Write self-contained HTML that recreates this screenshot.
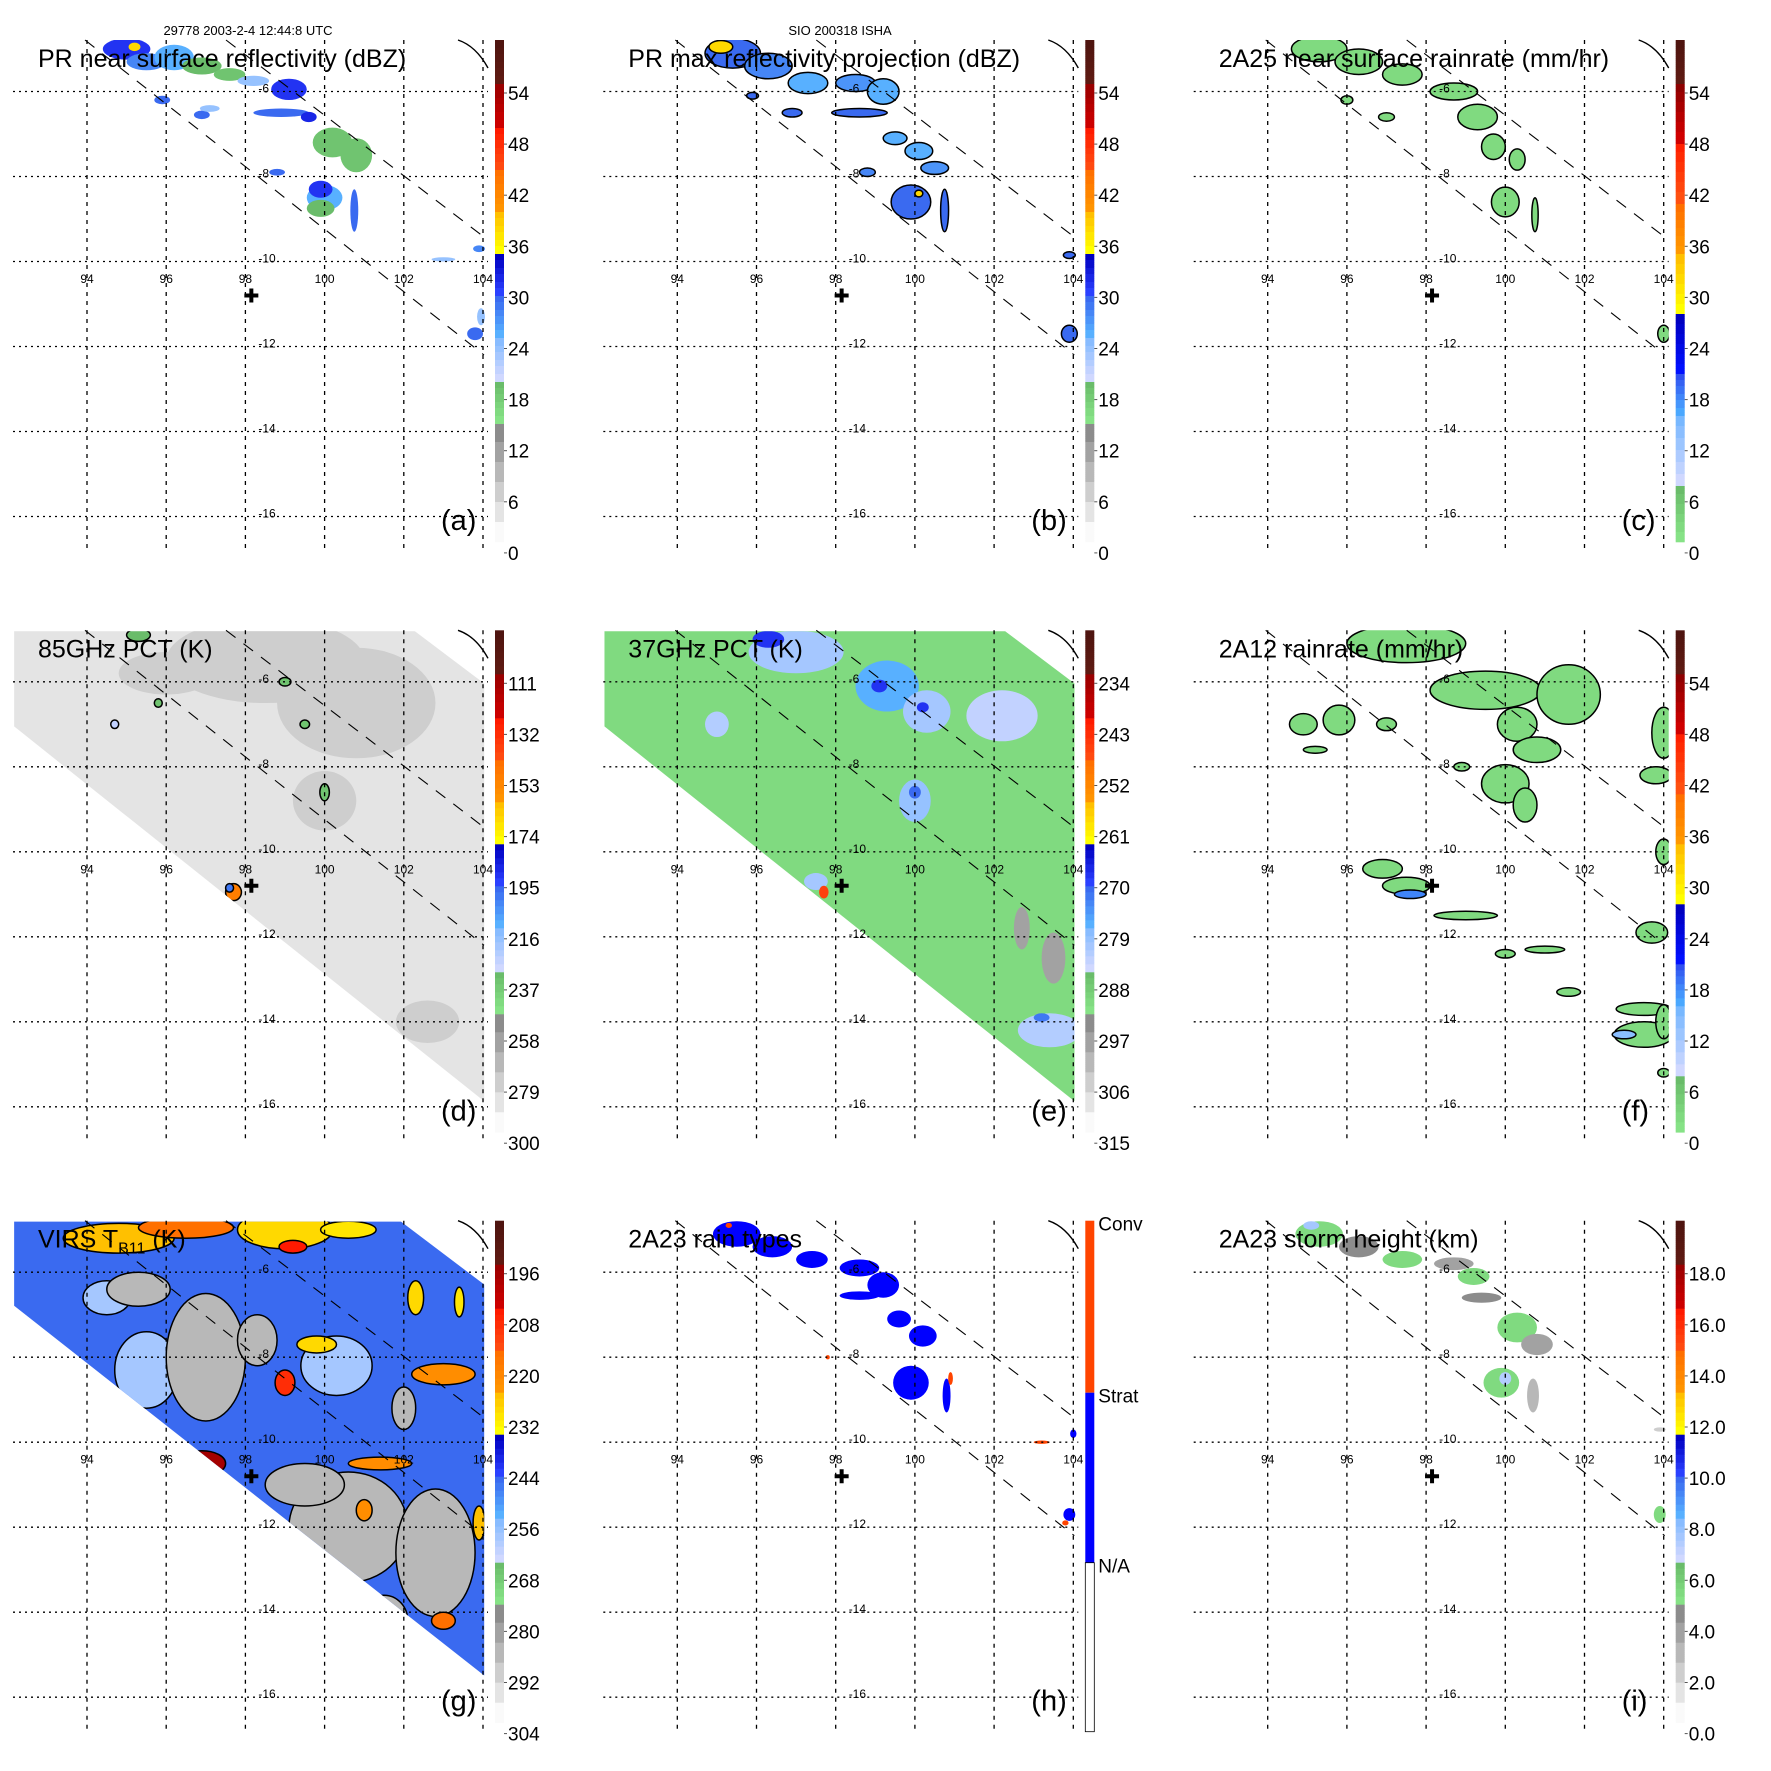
<!DOCTYPE html>
<html><head><meta charset="utf-8">
<style>
html,body{margin:0;padding:0;background:#fff;}
svg{display:block;font-family:"Liberation Sans",sans-serif;}
</style></head>
<body>
<svg id="fig" width="1771" height="1771" viewBox="0 0 1771 1771" xmlns="http://www.w3.org/2000/svg"></svg>
<script>
// ---------- data (lon, lat, radius-lon deg, radius-lat deg, value) ----------
const lonTicks = [94, 96, 98, 100, 102, 104];
const latTicks = [-6, -8, -10, -12, -14, -16];
const ticksDBZ = ["54","48","42","36","30","24","18","12","6","0"];
const ticks85 = ["111","132","153","174","195","216","237","258","279","300"];
const ticks37 = ["234","243","252","261","270","279","288","297","306","315"];
const ticksVIRS = ["196","208","220","232","244","256","268","280","292","304"];
const ticksHt = ["18.0","16.0","14.0","12.0","10.0","8.0","6.0","4.0","2.0","0.0"];
const rainTypeLabels = ["Conv","Strat","N/A"];
const stormCenter = [98.15, -10.8];

const blobsA = [
 [95.0,-5.0,0.6,0.25,31],[95.5,-5.3,0.5,0.2,28],[96.2,-5.2,0.5,0.3,26],[96.9,-5.4,0.5,0.2,20],
 [95.2,-4.95,0.15,0.1,38],[97.6,-5.6,0.4,0.15,19],[98.2,-5.75,0.4,0.12,24],[99.1,-5.95,0.45,0.25,31],
 [98.9,-6.5,0.7,0.1,30],[99.6,-6.6,0.2,0.12,32],[95.9,-6.2,0.2,0.1,30],[96.9,-6.55,0.2,0.1,30],
 [97.1,-6.4,0.25,0.08,24],[100.2,-7.2,0.5,0.35,19],[100.8,-7.5,0.4,0.4,19],[100.0,-8.5,0.45,0.3,26],
 [99.9,-8.3,0.3,0.2,31],[99.9,-8.75,0.35,0.2,20],[100.75,-8.8,0.1,0.5,30],[98.8,-7.9,0.2,0.08,30],
 [103.9,-9.7,0.15,0.08,28],[103.8,-11.7,0.2,0.15,30],[103.95,-11.3,0.1,0.2,24],[103.0,-9.95,0.3,0.05,24]
];
const blobsB = [
 [95.4,-5.1,0.7,0.35,30],[95.1,-4.95,0.3,0.15,38],[96.3,-5.4,0.6,0.3,28],[97.3,-5.8,0.5,0.25,26],
 [98.5,-5.8,0.5,0.2,27],[99.2,-6.0,0.4,0.3,26],[95.9,-6.1,0.15,0.08,30],[96.9,-6.5,0.25,0.1,30],
 [98.6,-6.5,0.7,0.1,30],[99.5,-7.1,0.3,0.15,26],[100.1,-7.4,0.35,0.2,26],[100.5,-7.8,0.35,0.15,27],
 [98.8,-7.9,0.2,0.1,28],[99.9,-8.6,0.5,0.4,30],[100.1,-8.4,0.1,0.08,38],[100.75,-8.8,0.1,0.5,30],
 [103.9,-9.85,0.15,0.08,30],[103.9,-11.7,0.2,0.2,30]
];
const blobsC = [
 [95.3,-5.0,0.7,0.3,3],[96.3,-5.3,0.6,0.3,3],[97.4,-5.6,0.5,0.25,3],[98.7,-6.0,0.6,0.2,3],
 [99.3,-6.6,0.5,0.3,3],[99.7,-7.3,0.3,0.3,3],[100.3,-7.6,0.2,0.25,3],[100.0,-8.6,0.35,0.35,3],
 [100.75,-8.9,0.08,0.4,3],[104.0,-11.7,0.15,0.2,3],[96.0,-6.2,0.15,0.1,3],[97.0,-6.6,0.2,0.1,3]
];
const bgD = 283;
const blobsD = [
 [98.5,-5.5,2.5,1.0,277],[100.8,-6.5,2.0,1.3,277],[100.0,-8.8,0.8,0.7,279],[96.0,-5.8,1.2,0.5,279],
 [99.0,-6.0,0.15,0.1,235],[95.8,-6.5,0.1,0.1,235],[94.7,-7.0,0.1,0.1,225],[99.5,-7.0,0.12,0.1,235],
 [100.0,-8.6,0.12,0.2,235],[97.7,-10.95,0.2,0.2,150],[97.6,-10.85,0.1,0.1,200],[102.6,-13.8,0.12,0.1,235],
 [103.0,-13.7,0.1,0.08,215],[95.3,-4.9,0.3,0.15,230],[102.6,-14.0,0.8,0.5,278]
];
const bgE = 290;
const blobsE = [
 [97.0,-5.3,1.2,0.5,280],[96.3,-5.0,0.4,0.2,268],[99.3,-6.1,0.8,0.6,277],[99.1,-6.1,0.2,0.15,268],
 [100.3,-6.7,0.6,0.5,280],[100.2,-6.6,0.15,0.12,268],[102.2,-6.8,0.9,0.6,283],[100.0,-8.8,0.4,0.5,279],
 [100.0,-8.6,0.15,0.15,270],[95.0,-7.0,0.3,0.3,282],[97.5,-10.7,0.3,0.2,280],[97.7,-10.95,0.12,0.15,245],
 [103.4,-14.2,0.8,0.4,282],[103.2,-13.9,0.2,0.1,272],[103.5,-12.5,0.3,0.6,297],[102.7,-11.8,0.2,0.5,297]
];
const blobsF = [
 [97.5,-5.1,1.5,0.45,3],[99.5,-6.2,1.4,0.45,3],[101.6,-6.3,0.8,0.7,3],[100.3,-7.0,0.5,0.4,3],
 [100.8,-7.6,0.6,0.3,3],[94.9,-7.0,0.35,0.25,3],[95.8,-6.9,0.4,0.35,3],[97.0,-7.0,0.25,0.15,3],
 [95.2,-7.6,0.3,0.08,3],[100.0,-8.4,0.6,0.45,3],[100.5,-8.9,0.3,0.4,3],[104.0,-7.2,0.3,0.6,3],
 [103.8,-8.2,0.4,0.2,3],[96.9,-10.4,0.5,0.22,3],[97.5,-10.8,0.6,0.2,3],[99.0,-11.5,0.8,0.1,3],
 [100.0,-12.4,0.25,0.1,3],[101.0,-12.3,0.5,0.08,3],[103.7,-11.9,0.4,0.25,3],[103.5,-13.7,0.7,0.15,3],
 [103.5,-14.3,0.75,0.3,3],[104.0,-14.0,0.2,0.4,3],[101.6,-13.3,0.3,0.1,3],[98.9,-8.0,0.2,0.1,3],
 [104.0,-10.0,0.2,0.3,3],[104.0,-15.2,0.15,0.1,3],[97.6,-11.0,0.4,0.1,18],[103.0,-14.3,0.3,0.1,14]
];
const bgG = 245;
const blobsG = [
 [95.5,-8.3,0.8,0.9,258],[100.3,-8.2,0.9,0.7,258],[102.8,-12.8,0.8,1.0,258],[94.5,-6.6,0.6,0.4,258],
 [97.0,-8.0,1.0,1.5,283],[95.3,-6.4,0.8,0.4,283],[98.3,-7.6,0.5,0.6,283],[100.6,-12.0,1.5,1.3,283],
 [102.8,-12.6,1.0,1.5,283],[99.5,-11.0,1.0,0.5,283],[101.5,-14.2,0.6,0.6,283],[102.0,-9.2,0.3,0.5,283],
 [94.8,-5.2,1.4,0.35,225],[96.5,-4.95,1.2,0.25,215],[99.0,-5.0,1.2,0.45,228],[99.2,-5.4,0.35,0.15,205],
 [100.6,-5.0,0.7,0.2,230],[103.0,-8.4,0.8,0.25,222],[99.8,-7.7,0.5,0.2,228],[99.0,-8.6,0.25,0.3,208],
 [101.4,-10.5,0.8,0.15,222],[96.9,-10.5,0.6,0.3,196],[101.0,-11.6,0.2,0.25,222],[103.9,-11.9,0.15,0.4,225],
 [103.0,-14.2,0.3,0.2,215],[102.3,-6.6,0.2,0.4,228],[103.4,-6.7,0.12,0.35,230],[99.6,-14.6,0.2,0.2,225]
];
const blobsH = [
 [95.5,-5.1,0.6,0.3,1],[96.4,-5.4,0.5,0.25,1],[97.4,-5.7,0.4,0.2,1],[98.6,-5.9,0.5,0.2,1],
 [99.2,-6.3,0.4,0.3,1],[98.6,-6.55,0.5,0.1,1],[99.6,-7.1,0.3,0.2,1],[100.2,-7.5,0.35,0.25,1],
 [99.9,-8.6,0.45,0.4,1],[100.8,-8.9,0.1,0.4,1],[103.9,-11.7,0.15,0.15,1],[104.0,-9.8,0.08,0.1,1],
 [95.3,-4.9,0.08,0.06,2],[100.9,-8.5,0.06,0.15,2],[97.8,-8.0,0.05,0.05,2],[103.2,-10.0,0.2,0.04,2],[103.8,-11.9,0.08,0.06,2]
];
const blobsI = [
 [95.3,-5.1,0.6,0.3,5.5],[96.3,-5.4,0.5,0.25,4.5],[97.4,-5.7,0.5,0.2,5.5],[98.7,-5.8,0.5,0.15,4.2],
 [99.2,-6.1,0.4,0.2,5.5],[99.4,-6.6,0.5,0.12,4.5],[100.3,-7.3,0.5,0.35,5.5],[100.8,-7.7,0.4,0.25,4.2],
 [99.9,-8.6,0.45,0.35,5.5],[100.0,-8.5,0.15,0.15,7.5],[100.7,-8.9,0.15,0.4,3.0],[103.9,-11.7,0.15,0.2,5.5],
 [95.1,-4.9,0.2,0.1,7.8],[103.9,-9.7,0.15,0.05,2.5]
];

// ---------- axes ----------
const X0 = 87, PXLON = 39.6, Y0 = 91.5, PXLAT = 42.5;
function lonX(l){ return X0 + (l - 94) * PXLON; }
function latY(l){ return Y0 + (-6 - l) * PXLAT; }
const MAPL = 13, MAPR = 488, MAPT = 40, MAPB = 552;
const CBX = 495, CBW = 9, CBT = 40, CBB = 542;

const bandsA = [[40,83,'#4f1510','#5e1a12'],[83,127,'#9a0000','#cc0000'],[127,169,'#ff1a00','#ff4a10'],
 [169,212,'#ff7000','#ff9400'],[212,254,'#ffc000','#ffff00'],[254,296,'#0000c0','#2a40ff'],
 [296,338,'#3a6af0','#58b0ff'],[338,381,'#88bcff','#d0d8ff'],[381,423,'#6abc6a','#86e286'],[423,542,'#8c8c8c','#fafafa']];
const bandsC = [[40,83,'#4f1510','#5e1a12'],[83,143,'#8e0000','#d00000'],[143,203,'#ff2000','#ff5010'],
 [203,254,'#ff7000','#ff9800'],[254,314,'#ffc000','#ffff00'],[314,373,'#0000c0','#0010ff'],
 [373,415,'#3050f0','#4aa8ff'],[415,485,'#78b8ff','#d0d8ff'],[485,542,'#6abc6a','#86e286']];

function hex(c){return [parseInt(c.substr(1,2),16),parseInt(c.substr(3,2),16),parseInt(c.substr(5,2),16)];}
function mix(a,b,t){const A=hex(a),B=hex(b);return 'rgb('+A.map((v,i)=>Math.round(v+(B[i]-v)*t)).join(',')+')';}
function colorAtY(bands,y){
  y=Math.max(CBT+0.5,Math.min(CBB-0.5,y));
  for(const b of bands){ if(y>=b[0]&&y<=b[1]){ const t=Math.floor((y-b[0])/(b[1]-b[0])*6)/5; return mix(b[2],b[3],Math.min(1,t)); } }
  return '#fff';
}
function valY(scale,v){ return 553 + (v - scale.bottom)/(scale.top - scale.bottom)*(93-553); }

const NS='http://www.w3.org/2000/svg';
const fig=document.getElementById('fig');
function el(tag,attrs,parent){const e=document.createElementNS(NS,tag);for(const k in attrs)e.setAttribute(k,attrs[k]);parent.appendChild(e);return e;}

const swathTMI = [[92.16,-4.81],[102.28,-4.81],[104.03,-6.04],[104.03,-15.87],[92.16,-7.05]];
const swathVIRS = [[92.16,-4.81],[101.93,-4.81],[104.03,-6.29],[104.03,-15.49],[92.16,-6.79]];

const panels = [
 {id:'a',col:0,row:0,title:'PR near surface reflectivity (dBZ)',blobs:blobsA,bands:bandsA,scale:{top:54,bottom:0},ticks:ticksDBZ,outline:false},
 {id:'b',col:1,row:0,title:'PR max reflectivity projection (dBZ)',blobs:blobsB,bands:bandsA,scale:{top:54,bottom:0},ticks:ticksDBZ,outline:true},
 {id:'c',col:2,row:0,title:'2A25 near surface rainrate (mm/hr)',blobs:blobsC,bands:bandsC,scale:{top:54,bottom:0},ticks:ticksDBZ,outline:true},
 {id:'d',col:0,row:1,title:'85GHz PCT (K)',blobs:blobsD,bands:bandsA,scale:{top:111,bottom:300},ticks:ticks85,outline:true,bg:bgD,swath:swathTMI,noGrayOutline:true},
 {id:'e',col:1,row:1,title:'37GHz PCT (K)',blobs:blobsE,bands:bandsA,scale:{top:234,bottom:315},ticks:ticks37,outline:false,bg:bgE,swath:swathTMI},
 {id:'f',col:2,row:1,title:'2A12 rainrate (mm/hr)',blobs:blobsF,bands:bandsC,scale:{top:54,bottom:0},ticks:ticksDBZ,outline:true},
 {id:'g',col:0,row:2,title:'VIRS',blobs:blobsG,bands:bandsA,scale:{top:196,bottom:304},ticks:ticksVIRS,outline:true,bg:bgG,swath:swathVIRS},
 {id:'h',col:1,row:2,title:'2A23 rain types',blobs:blobsH,rain:true,outline:false},
 {id:'i',col:2,row:2,title:'2A23 storm height (km)',blobs:blobsI,bands:bandsA,scale:{top:18,bottom:0},ticks:ticksHt,outline:false}
];

panels.forEach(p=>{
  const g=el('g',{transform:`translate(${(p.col*590.33).toFixed(1)},${(p.row*590.33).toFixed(1)})`},fig);
  
  
  const cid='clip-'+p.id;
  const defs=el('defs',{},g);
  const cp=el('clipPath',{id:cid},defs);
  if(p.swath){ el('polygon',{points:p.swath.map(q=>lonX(q[0])+','+latY(q[1])).join(' ')},cp); }
  else el('rect',{x:MAPL,y:MAPT,width:MAPR-MAPL,height:MAPB-MAPT},cp);
  const data=el('g',{'clip-path':`url(#${cid})`},g);
  
  
  if(p.bg!==undefined){
    const bgc=colorAtY(p.bands,valY(p.scale,p.bg));
    const bgr=el('rect',{x:0,y:0,width:590,height:590,fill:bgc},data);
    
    
  }
  p.blobs.forEach(b=>{
    let fill, yv=0;
    if(p.rain) fill = b[4]===2 ? '#ff4400' : '#0000ff';
    else { yv=valY(p.scale,b[4]); fill = colorAtY(p.bands,yv); }
    const e=el('ellipse',{cx:lonX(b[0]),cy:latY(b[1]),rx:b[2]*PXLON,ry:b[3]*PXLAT,fill:fill},data);
    if(p.outline && !(p.noGrayOutline && yv>=423)){e.setAttribute('stroke','#000');e.setAttribute('stroke-width','1.5');}
    
    
  });
  // grid
  const grid=el('g',{stroke:'#000','stroke-width':'1.3',fill:'none'},g);
  
  
  lonTicks.forEach(l=>{ el('line',{x1:lonX(l),x2:lonX(l),y1:MAPT,y2:MAPB,'stroke-dasharray':'4,5'},grid); });
  latTicks.forEach(l=>{ el('line',{x1:MAPL,x2:MAPR,y1:latY(l),y2:latY(l),'stroke-dasharray':'2,4'},grid); });
  // swath edges
  const sw=el('g',{stroke:'#000','stroke-width':'1.1','stroke-dasharray':'12,10'},g);
  
  
  el('line',{x1:85,y1:40,x2:484,y2:355},sw);
  el('line',{x1:226,y1:40,x2:484,y2:237},sw);
  const coast=el('path',{d:'M458,40 Q476,46 488,68',stroke:'#000','stroke-width':'1.4',fill:'none'},g);
  
  
  // labels
  lonTicks.forEach(l=>{ const t=el('text',{x:lonX(l),y:283,'font-size':'12','text-anchor':'middle'},g); t.textContent=String(l);
      });
  latTicks.forEach(l=>{ const t=el('text',{x:lonX(98)+13,y:latY(l)+1,'font-size':'12'},g); t.textContent=String(l);
      });
  // storm center cross
  const cx=lonX(stormCenter[0]), cy=latY(stormCenter[1]);
  const cr=el('path',{d:`M${cx-2},${cy-7}h4v5h5v4h-5v5h-4v-5h-5v-4h5z`,fill:'#000'},g);
  
  
  // title
  const tt=el('text',{x:38,y:67,'font-size':'25'},g);
  
  
  if(p.id==='g'){ tt.textContent='VIRS T'; const s=el('tspan',{'font-size':'16',dy:'6'},tt); s.textContent='B11'; const s2=el('tspan',{dy:'-6'},tt); s2.textContent=' (K)'; }
  else tt.textContent=p.title;
  const pl=el('text',{x:441,y:530,'font-size':'29'},g); pl.textContent='('+p.id+')';
   
  // colorbar
  const cb=el('g',{},g);
  
  
  if(p.rain){
    el('rect',{x:CBX,y:40,width:CBW,height:172,fill:'#ff4400'},cb);
    el('rect',{x:CBX,y:212,width:CBW,height:170,fill:'#0000ff'},cb);
    el('rect',{x:CBX,y:382,width:CBW,height:169,fill:'#fff',stroke:'#000','stroke-width':'0.8'},cb);
    const ly=[50,222,392];
    rainTypeLabels.forEach((s,i)=>{const t=el('text',{x:508,y:ly[i],'font-size':'19'},cb);t.textContent=s;
       });
  } else {
    for(let y=CBT;y<CBB;y+=2){ el('rect',{x:CBX,y:y,width:CBW,height:2.3,fill:colorAtY(p.bands,y+1)},cb); }
    p.ticks.forEach((s,i)=>{ const yy=93+i*51.1;
      el('line',{x1:CBX+CBW,x2:CBX+CBW+3,y1:yy,y2:yy,stroke:'#555','stroke-width':'1'},cb);
      const t=el('text',{x:508,y:yy+7,'font-size':'19'},cb); t.textContent=s;
        });
  }
});
const h1=el('text',{x:248,y:35,'font-size':'13','text-anchor':'middle'},fig); h1.textContent='29778 2003-2-4 12:44:8 UTC';
 
const h2=el('text',{x:840,y:35,'font-size':'13','text-anchor':'middle'},fig); h2.textContent='SIO 200318 ISHA';
 
</script>
</body></html>
